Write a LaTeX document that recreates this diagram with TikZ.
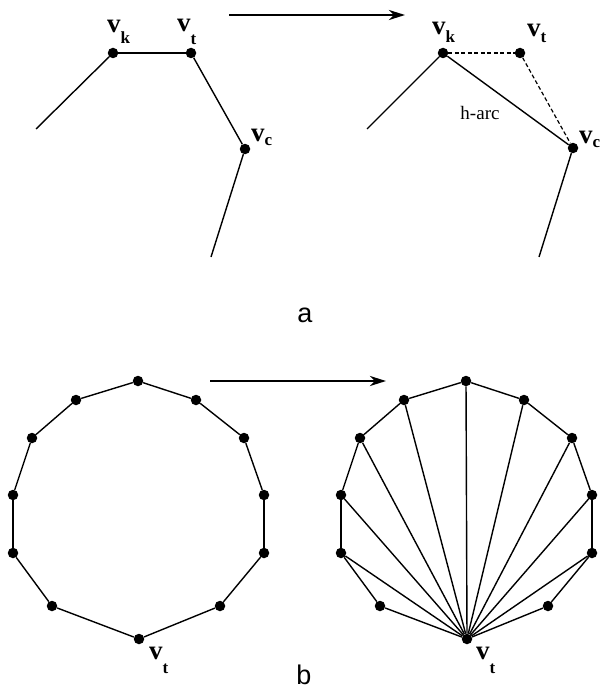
\documentclass[tikz,border=0pt]{standalone}
\usepackage{fontspec}
\setmainfont{Liberation Serif}
\newfontfamily\capfont{Liberation Sans}
\usetikzlibrary{arrows.meta}
\tikzset{
  vert/.style={circle,fill=black,minimum size=10.5pt,inner sep=0pt},
  edge/.style={line width=1.4pt},
  hidden/.style={line width=1.2pt,dash pattern=on 4pt off 2.5pt},
  trans/.style={-{Stealth[length=16pt,width=10pt,inset=5pt]},line width=2.4pt},
  vlab/.style={inner sep=0pt,anchor=base west,font=\fontsize{27}{27}\selectfont\bfseries},
  note/.style={inner sep=0pt,font=\fontsize{19}{19}\selectfont},
  partlab/.style={inner sep=0pt,anchor=base,font=\capfont\fontsize{27}{27}\selectfont}
}
\newcommand{\vsub}[2][12pt]{v\raisebox{-#1}{\fontsize{17}{17}\selectfont #2}}

\begin{document}
\begin{tikzpicture}[x=1pt,y=-1pt]
\useasboundingbox (0,0) rectangle (601,690);
% a
\node[vert] (ak) at (113,53) {}; \node[vert] (at) at (191,53) {}; \node[vert] (ac) at (245,149) {};
\coordinate (al) at (36,129); \coordinate (ab) at (211,257);
\draw[edge] (al)--(ak); \draw[edge] (ak)--(at); \draw[edge] (at)--(ac); \draw[edge] (ac)--(ab);
\node[vlab] (akl) at (107,33) {\vsub[11pt]{k}};
\node[vlab] (atl) at (177,32) {\vsub[13pt]{t}};
\node[vlab] (acl) at (251,142) {\vsub[3pt]{c}};
\coordinate (a0) at (229,15); \coordinate (a1) at (405,15); \draw[trans] (a0)--(a1);
\node[vert] (hk) at (443,53) {}; \node[vert] (ht) at (520,53) {}; \node[vert] (hc) at (573,148) {};
\coordinate (hl) at (367,129); \coordinate (hb) at (539,257);
\draw[edge] (hl)--(hk); \draw[edge] (hk)--(hc); \draw[edge] (hc)--(hb);
\draw[hidden] (hk)--(ht); \draw[hidden] (ht)--(hc);
\node[vlab] (hkl) at (432,35) {\vsub[8pt]{k}};
\node[vlab] (htl) at (527,37) {\vsub[6pt]{t}};
\node[vlab] (hcl) at (579,143) {\vsub[4pt]{c}};
\node[note] (harc) at (480,113) {h-arc};
\node[partlab] (capa) at (305,322) {a};
% b
\foreach \s/\dx in {L/0,R/328}{
  \foreach \x/\y [count=\i] in {138/381,196/400,244/438,264/495,264/553,220/606,139/639,52/606,13/553,13/495,32/438,76/400}
    \node[vert] (\s\i) at (\x+\dx,\y) {};
  \foreach \i [remember=\i as \j (initially 12)] in {1,...,12}
    \draw[edge] (\s\j)--(\s\i);
}
\foreach \i in {1,2,3,4,5,9,10,11,12} \draw[edge] (R7)--(R\i);
\node[vlab] (Ll) at (149,659) {\vsub[14pt]{t}};
\node[vlab] (Rl) at (476,659) {\vsub[14pt]{t}};
\coordinate (b0) at (210,381); \coordinate (b1) at (386,381); \draw[trans] (b0)--(b1);
\node[partlab] (capb) at (304,684) {b};
\end{tikzpicture}
\end{document}
